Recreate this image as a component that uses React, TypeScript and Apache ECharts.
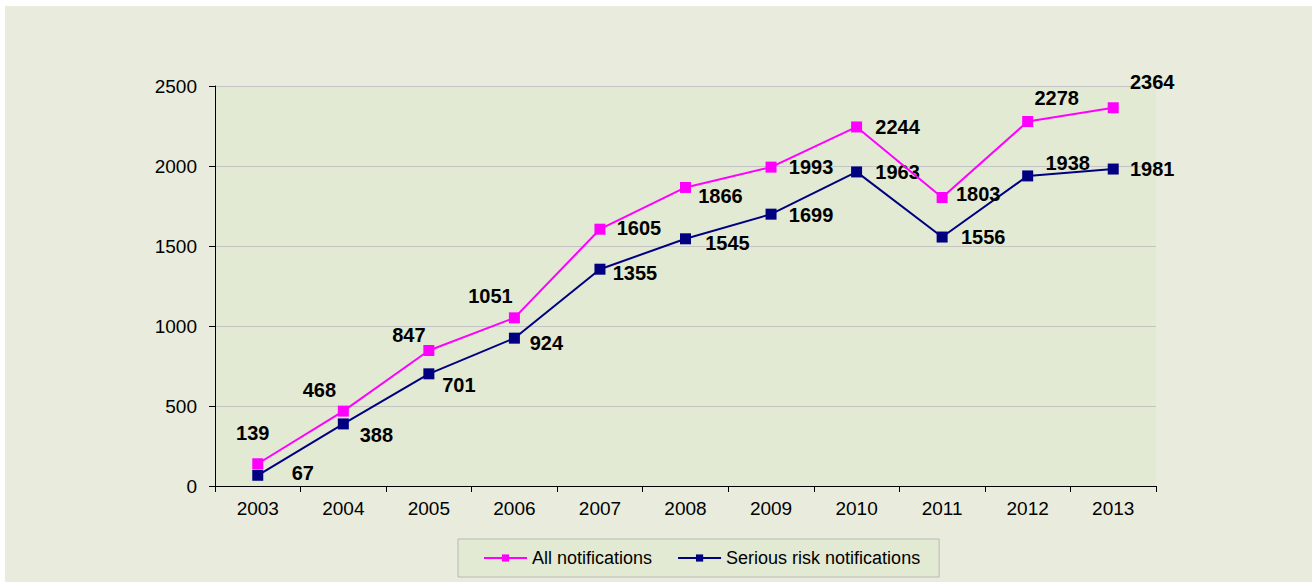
import React, { useEffect, useRef } from "react";
import * as echarts from "echarts";

const years = ["2003", "2004", "2005", "2006", "2007", "2008", "2009", "2010", "2011", "2012", "2013"];
const allNotifications = [139, 468, 847, 1051, 1605, 1866, 1993, 2244, 1803, 2278, 2364];
const seriousRisk = [67, 388, 701, 924, 1355, 1545, 1699, 1963, 1556, 1938, 1981];

// label offsets (style only)
const allOffsets: [number, number][] = [
  [-5, -31], [-24, -21], [-20, -15], [-24, -22], [39, -1], [35, 9], [40, 0], [41, 0], [36, -4], [29, -24], [39, -26],
];
const seriousOffsets: [number, number][] = [
  [45, -2], [33, 11], [30, 11], [32, 5], [35, 4], [42, 4], [40, 1], [41, 0], [41, 0], [40, -13], [39, 0],
];

const FONT = "'Liberation Sans', Arial, sans-serif";

export default function App() {
  const ref = useRef<HTMLDivElement>(null);
  useEffect(() => {
    if (!ref.current) return;
    const chart = echarts.init(ref.current, undefined, { renderer: "svg" });
    const labelBase = {
      show: true,
      position: "inside",
      color: "#000",
      fontSize: 20,
      fontWeight: "bold",
      fontFamily: FONT,
    };
    chart.setOption({
      animation: false,
      backgroundColor: "#ffffff",
      graphic: [
        {
          type: "rect",
          z: -100,
          silent: true,
          shape: { x: 5, y: 6, width: 1307, height: 576 },
          style: { fill: "#e9ecdc" },
        },
      ],
      grid: {
        left: 215,
        top: 86,
        width: 941,
        height: 400,
        show: true,
        backgroundColor: "#e3ead4",
        borderWidth: 0,
      },
      legend: {
        left: 458,
        top: 539,
        padding: [10, 19, 10, 25],
        itemGap: 25,
        itemWidth: 43,
        itemHeight: 9,
        backgroundColor: "#e3ead4",
        borderColor: "#b8b8b8",
        borderWidth: 1,
        borderRadius: 0,
        textStyle: { fontSize: 18, color: "#000", fontFamily: FONT },
        data: ["All notifications", "Serious risk notifications"],
      },
      xAxis: {
        type: "category",
        data: years,
        boundaryGap: true,
        axisLine: { show: true, lineStyle: { color: "#000", width: 1 } },
        axisTick: { show: true, length: 6, lineStyle: { color: "#000" } },
        axisLabel: { color: "#000", fontSize: 19, fontFamily: FONT, margin: 13 },
        splitLine: { show: false },
      },
      yAxis: {
        type: "value",
        min: 0,
        max: 2500,
        interval: 500,
        axisLine: { show: true, lineStyle: { color: "#000", width: 1 } },
        axisTick: { show: true, length: 6, lineStyle: { color: "#000" } },
        axisLabel: {
          color: "#000",
          fontSize: 19,
          fontFamily: FONT,
          margin: 18,
          formatter: (v: number) => String(v),
        },
        splitLine: { show: true, lineStyle: { color: "#c4c4c4", width: 1 } },
      },
      series: [
        {
          name: "All notifications",
          type: "line",
          data: allNotifications.map((v, i) => ({ value: v, label: { offset: allOffsets[i] } })),
          symbol: "rect",
          symbolSize: 11,
          itemStyle: { color: "#ff00ff" },
          lineStyle: { color: "#ff00ff", width: 2 },
          label: labelBase,
          z: 3,
        },
        {
          name: "Serious risk notifications",
          type: "line",
          data: seriousRisk.map((v, i) => ({ value: v, label: { offset: seriousOffsets[i] } })),
          symbol: "rect",
          symbolSize: 11,
          itemStyle: { color: "#000080" },
          lineStyle: { color: "#000080", width: 2 },
          label: labelBase,
          z: 2,
        },
      ],
    });
    return () => chart.dispose();
  }, []);
  return (
    <div
      ref={ref}
      style={{ position: "fixed", left: 0, top: 0, width: 1312, height: 582 }}
    />
  );
}
